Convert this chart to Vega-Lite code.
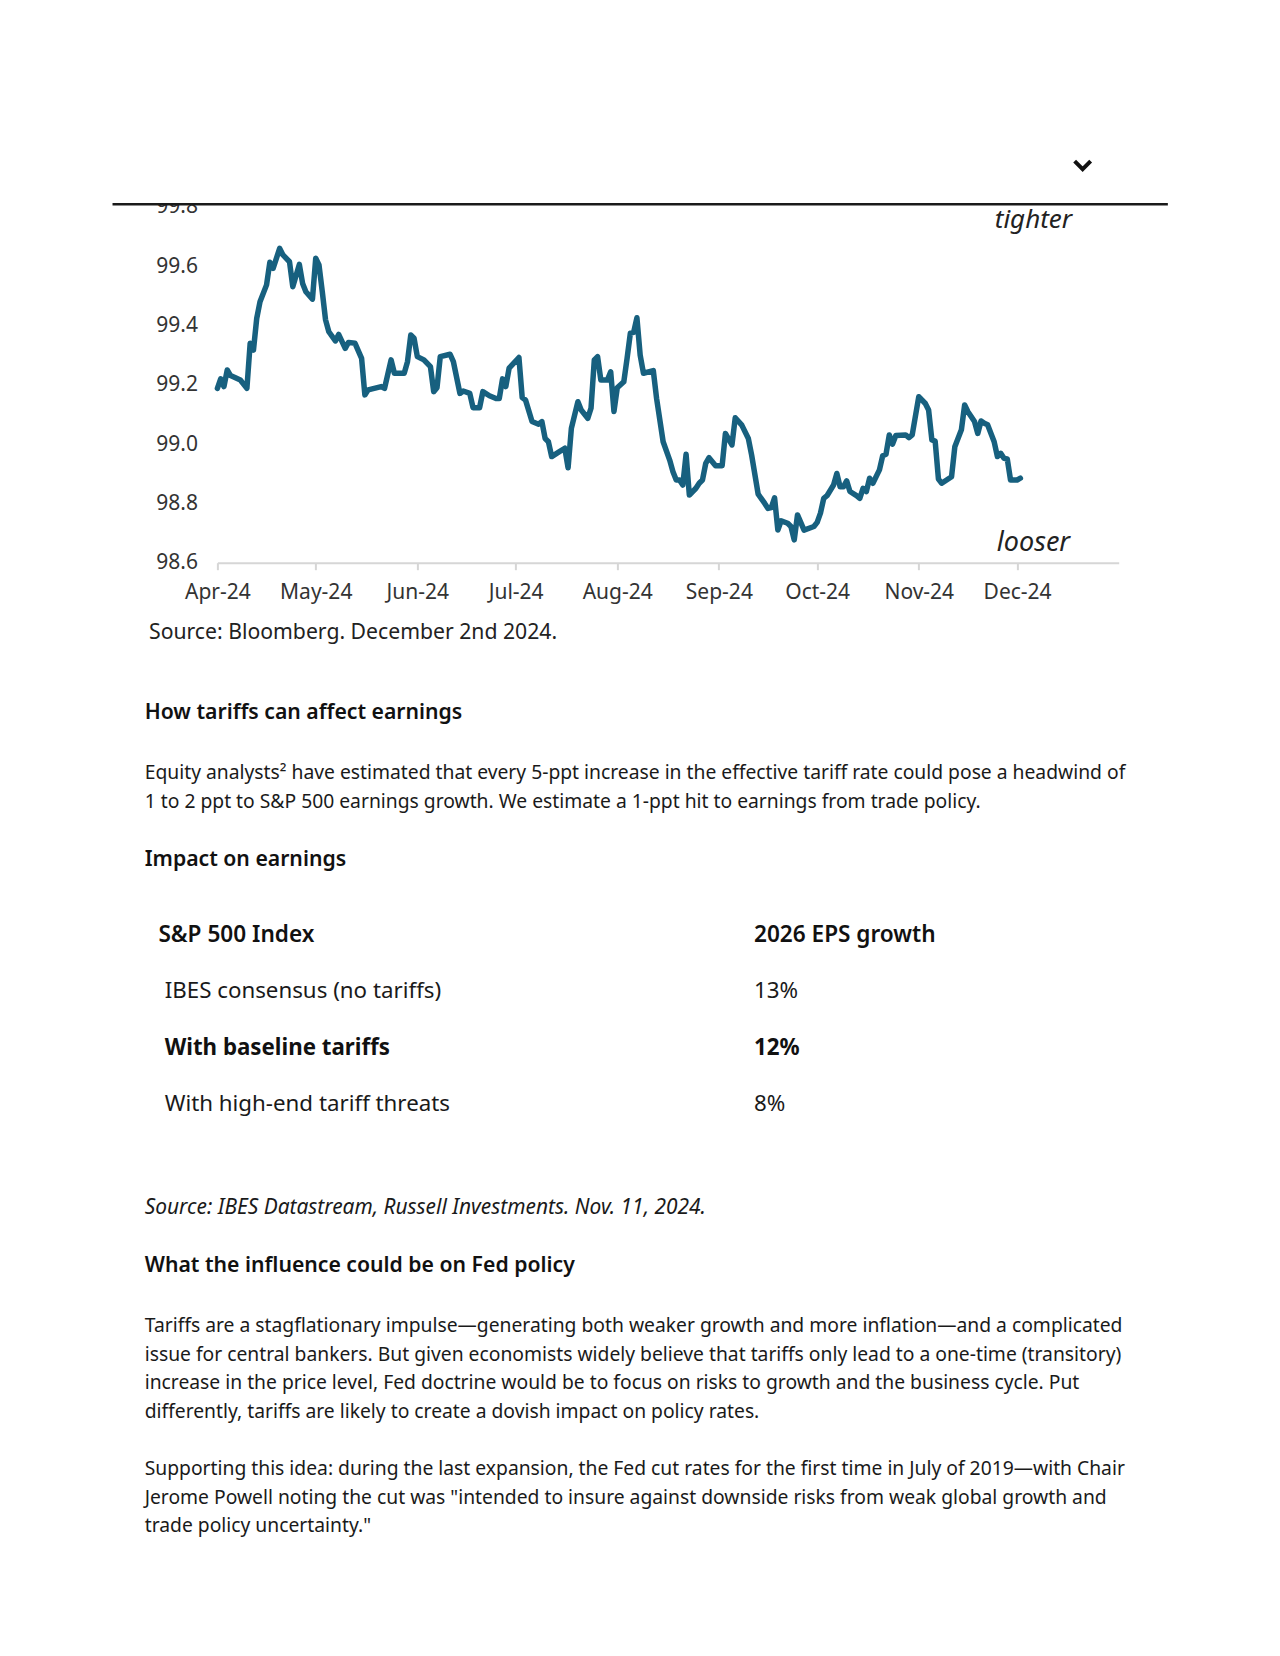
{
  "$schema": "https://vega.github.io/schema/vega-lite/v6.json",
  "width": 901.3,
  "height": 355.8,
  "autosize": {"type": "none"},
  "padding": {"left": 217.4, "top": 206.9, "right": 161.3, "bottom": 1093.3},
  "background": "white",
  "config": {"view": {"stroke": null}, "font": "Noto Sans"},
  "datasets": {
    "fci": [
      {"date": "2024-04-01", "value": 99.188}, {"date": "2024-04-02", "value": 99.22}, {"date": "2024-04-03", "value": 99.194},
      {"date": "2024-04-04", "value": 99.25}, {"date": "2024-04-05", "value": 99.231}, {"date": "2024-04-08", "value": 99.216},
      {"date": "2024-04-10", "value": 99.188}, {"date": "2024-04-11", "value": 99.34}, {"date": "2024-04-12", "value": 99.317},
      {"date": "2024-04-13", "value": 99.424}, {"date": "2024-04-14", "value": 99.48}, {"date": "2024-04-16", "value": 99.537},
      {"date": "2024-04-17", "value": 99.613}, {"date": "2024-04-18", "value": 99.593}, {"date": "2024-04-20", "value": 99.66},
      {"date": "2024-04-21", "value": 99.638}, {"date": "2024-04-23", "value": 99.615}, {"date": "2024-04-24", "value": 99.531},
      {"date": "2024-04-26", "value": 99.606}, {"date": "2024-04-27", "value": 99.542}, {"date": "2024-04-28", "value": 99.514},
      {"date": "2024-04-30", "value": 99.489}, {"date": "2024-05-01", "value": 99.627}, {"date": "2024-05-02", "value": 99.604},
      {"date": "2024-05-03", "value": 99.514}, {"date": "2024-05-04", "value": 99.419}, {"date": "2024-05-05", "value": 99.379},
      {"date": "2024-05-07", "value": 99.348}, {"date": "2024-05-08", "value": 99.37}, {"date": "2024-05-10", "value": 99.323},
      {"date": "2024-05-11", "value": 99.343}, {"date": "2024-05-13", "value": 99.34}, {"date": "2024-05-15", "value": 99.289},
      {"date": "2024-05-16", "value": 99.166}, {"date": "2024-05-17", "value": 99.183}, {"date": "2024-05-21", "value": 99.194},
      {"date": "2024-05-22", "value": 99.188}, {"date": "2024-05-24", "value": 99.284}, {"date": "2024-05-25", "value": 99.239},
      {"date": "2024-05-28", "value": 99.239}, {"date": "2024-05-29", "value": 99.278}, {"date": "2024-05-30", "value": 99.368},
      {"date": "2024-05-31", "value": 99.357}, {"date": "2024-06-01", "value": 99.295}, {"date": "2024-06-03", "value": 99.284},
      {"date": "2024-06-05", "value": 99.261}, {"date": "2024-06-06", "value": 99.177}, {"date": "2024-06-07", "value": 99.19},
      {"date": "2024-06-08", "value": 99.295}, {"date": "2024-06-11", "value": 99.303}, {"date": "2024-06-12", "value": 99.278},
      {"date": "2024-06-14", "value": 99.171}, {"date": "2024-06-15", "value": 99.179}, {"date": "2024-06-17", "value": 99.171},
      {"date": "2024-06-18", "value": 99.123}, {"date": "2024-06-20", "value": 99.123}, {"date": "2024-06-21", "value": 99.177},
      {"date": "2024-06-23", "value": 99.163}, {"date": "2024-06-25", "value": 99.154}, {"date": "2024-06-26", "value": 99.154},
      {"date": "2024-06-27", "value": 99.22}, {"date": "2024-06-28", "value": 99.194}, {"date": "2024-06-29", "value": 99.256},
      {"date": "2024-07-02", "value": 99.292}, {"date": "2024-07-03", "value": 99.157}, {"date": "2024-07-04", "value": 99.149},
      {"date": "2024-07-06", "value": 99.076}, {"date": "2024-07-08", "value": 99.067}, {"date": "2024-07-09", "value": 99.076},
      {"date": "2024-07-10", "value": 99.019}, {"date": "2024-07-11", "value": 99.008}, {"date": "2024-07-12", "value": 98.958},
      {"date": "2024-07-14", "value": 98.972}, {"date": "2024-07-16", "value": 98.986}, {"date": "2024-07-17", "value": 98.92},
      {"date": "2024-07-18", "value": 99.053}, {"date": "2024-07-20", "value": 99.143}, {"date": "2024-07-21", "value": 99.115},
      {"date": "2024-07-23", "value": 99.087}, {"date": "2024-07-24", "value": 99.121}, {"date": "2024-07-25", "value": 99.284},
      {"date": "2024-07-26", "value": 99.295}, {"date": "2024-07-27", "value": 99.216}, {"date": "2024-07-29", "value": 99.216},
      {"date": "2024-07-30", "value": 99.244}, {"date": "2024-07-31", "value": 99.11}, {"date": "2024-08-01", "value": 99.19},
      {"date": "2024-08-03", "value": 99.21}, {"date": "2024-08-04", "value": 99.289}, {"date": "2024-08-05", "value": 99.374},
      {"date": "2024-08-06", "value": 99.377}, {"date": "2024-08-07", "value": 99.426}, {"date": "2024-08-08", "value": 99.3},
      {"date": "2024-08-09", "value": 99.239}, {"date": "2024-08-12", "value": 99.248}, {"date": "2024-08-13", "value": 99.154},
      {"date": "2024-08-15", "value": 99.008}, {"date": "2024-08-17", "value": 98.946}, {"date": "2024-08-18", "value": 98.907},
      {"date": "2024-08-19", "value": 98.879}, {"date": "2024-08-20", "value": 98.879}, {"date": "2024-08-21", "value": 98.862},
      {"date": "2024-08-22", "value": 98.966}, {"date": "2024-08-23", "value": 98.828}, {"date": "2024-08-25", "value": 98.851},
      {"date": "2024-08-26", "value": 98.868}, {"date": "2024-08-27", "value": 98.879}, {"date": "2024-08-28", "value": 98.935},
      {"date": "2024-08-29", "value": 98.954}, {"date": "2024-08-31", "value": 98.927}, {"date": "2024-09-02", "value": 98.927},
      {"date": "2024-09-03", "value": 99.036}, {"date": "2024-09-05", "value": 98.997}, {"date": "2024-09-06", "value": 99.089},
      {"date": "2024-09-08", "value": 99.064}, {"date": "2024-09-10", "value": 99.019}, {"date": "2024-09-11", "value": 98.963},
      {"date": "2024-09-13", "value": 98.831}, {"date": "2024-09-15", "value": 98.8}, {"date": "2024-09-16", "value": 98.783},
      {"date": "2024-09-17", "value": 98.786}, {"date": "2024-09-18", "value": 98.819}, {"date": "2024-09-19", "value": 98.71},
      {"date": "2024-09-20", "value": 98.741}, {"date": "2024-09-22", "value": 98.733}, {"date": "2024-09-23", "value": 98.722},
      {"date": "2024-09-24", "value": 98.677}, {"date": "2024-09-25", "value": 98.761}, {"date": "2024-09-27", "value": 98.71},
      {"date": "2024-09-30", "value": 98.722}, {"date": "2024-10-01", "value": 98.736}, {"date": "2024-10-02", "value": 98.767},
      {"date": "2024-10-03", "value": 98.817}, {"date": "2024-10-04", "value": 98.826}, {"date": "2024-10-06", "value": 98.862},
      {"date": "2024-10-07", "value": 98.901}, {"date": "2024-10-08", "value": 98.856}, {"date": "2024-10-09", "value": 98.856},
      {"date": "2024-10-10", "value": 98.876}, {"date": "2024-10-11", "value": 98.84}, {"date": "2024-10-13", "value": 98.826},
      {"date": "2024-10-14", "value": 98.817}, {"date": "2024-10-15", "value": 98.851}, {"date": "2024-10-16", "value": 98.84},
      {"date": "2024-10-17", "value": 98.885}, {"date": "2024-10-18", "value": 98.868}, {"date": "2024-10-20", "value": 98.913},
      {"date": "2024-10-21", "value": 98.961}, {"date": "2024-10-22", "value": 98.966}, {"date": "2024-10-23", "value": 99.031},
      {"date": "2024-10-24", "value": 99.0}, {"date": "2024-10-25", "value": 99.029}, {"date": "2024-10-28", "value": 99.031},
      {"date": "2024-10-29", "value": 99.022}, {"date": "2024-10-30", "value": 99.031}, {"date": "2024-11-01", "value": 99.16},
      {"date": "2024-11-03", "value": 99.137}, {"date": "2024-11-04", "value": 99.115}, {"date": "2024-11-05", "value": 99.014},
      {"date": "2024-11-06", "value": 99.01}, {"date": "2024-11-07", "value": 98.882}, {"date": "2024-11-08", "value": 98.868},
      {"date": "2024-11-11", "value": 98.89}, {"date": "2024-11-12", "value": 98.991}, {"date": "2024-11-14", "value": 99.048},
      {"date": "2024-11-15", "value": 99.132}, {"date": "2024-11-16", "value": 99.109}, {"date": "2024-11-18", "value": 99.076},
      {"date": "2024-11-19", "value": 99.036}, {"date": "2024-11-20", "value": 99.078}, {"date": "2024-11-21", "value": 99.07},
      {"date": "2024-11-22", "value": 99.065}, {"date": "2024-11-24", "value": 99.008}, {"date": "2024-11-25", "value": 98.958},
      {"date": "2024-11-26", "value": 98.969}, {"date": "2024-11-27", "value": 98.952}, {"date": "2024-11-28", "value": 98.95},
      {"date": "2024-11-29", "value": 98.879}, {"date": "2024-12-01", "value": 98.879}, {"date": "2024-12-02", "value": 98.885}
    ],
    "page": [
      {"kind": "chart-source", "line": 1, "col": 1, "text": "Source: Bloomberg. December 2nd 2024."},
      {"kind": "heading", "line": 2, "col": 0, "text": "How tariffs can affect earnings"},
      {"kind": "body", "line": 3, "col": 0, "text": "Equity analysts² have estimated that every 5-ppt increase in the effective tariff rate could pose a headwind of"},
      {"kind": "body", "line": 4, "col": 0, "text": "1 to 2 ppt to S&P 500 earnings growth. We estimate a 1-ppt hit to earnings from trade policy."},
      {"kind": "heading", "line": 5, "col": 0, "text": "Impact on earnings"},
      {"kind": "table-head", "line": 6, "col": 2, "text": "S&P 500 Index"},
      {"kind": "table-head", "line": 6, "col": 4, "text": "2026 EPS growth"},
      {"kind": "table-cell", "line": 7, "col": 3, "text": "IBES consensus (no tariffs)"},
      {"kind": "table-cell", "line": 7, "col": 4, "text": "13%"},
      {"kind": "table-cell-key", "line": 8, "col": 3, "text": "With baseline tariffs"},
      {"kind": "table-cell-key", "line": 8, "col": 4, "text": "12%"},
      {"kind": "table-cell", "line": 9, "col": 3, "text": "With high-end tariff threats"},
      {"kind": "table-cell", "line": 9, "col": 4, "text": "8%"},
      {"kind": "note", "line": 10, "col": 0, "text": "Source: IBES Datastream, Russell Investments. Nov. 11, 2024."},
      {"kind": "heading", "line": 11, "col": 0, "text": "What the influence could be on Fed policy"},
      {"kind": "body", "line": 12, "col": 0, "text": "Tariffs are a stagflationary impulse—generating both weaker growth and more inflation—and a complicated"},
      {"kind": "body", "line": 13, "col": 0, "text": "issue for central bankers. But given economists widely believe that tariffs only lead to a one-time (transitory)"},
      {"kind": "body", "line": 14, "col": 0, "text": "increase in the price level, Fed doctrine would be to focus on risks to growth and the business cycle. Put"},
      {"kind": "body", "line": 15, "col": 0, "text": "differently, tariffs are likely to create a dovish impact on policy rates."},
      {"kind": "body", "line": 16, "col": 0, "text": "Supporting this idea: during the last expansion, the Fed cut rates for the first time in July of 2019—with Chair"},
      {"kind": "body", "line": 17, "col": 0, "text": "Jerome Powell noting the cut was \"intended to insure against downside risks from weak global growth and"},
      {"kind": "body", "line": 18, "col": 0, "text": "trade policy uncertainty.\""}
    ]
  },
  "layer": [
    {
      "data": {"name": "fci"},
      "layer": [
        {
          "mark": {"type": "line", "color": "#17607f", "strokeWidth": 5.5, "strokeJoin": "round", "strokeCap": "round"},
          "encoding": {
            "x": {
              "field": "date", "type": "temporal",
              "scale": {"domain": [{"year": 2024, "month": 4, "date": 1}, {"year": 2025, "month": 1, "date": 1}], "nice": false},
              "axis": {"title": null, "format": "%b-%y", "tickCount": {"interval": "month", "step": 1}, "grid": false,
                       "values": [{"year": 2024, "month": 4, "date": 1}, {"year": 2024, "month": 5, "date": 1}, {"year": 2024, "month": 6, "date": 1},
                                  {"year": 2024, "month": 7, "date": 1}, {"year": 2024, "month": 8, "date": 1}, {"year": 2024, "month": 9, "date": 1},
                                  {"year": 2024, "month": 10, "date": 1}, {"year": 2024, "month": 11, "date": 1}, {"year": 2024, "month": 12, "date": 1}],
                       "labelFontSize": 21, "labelFont": "Noto Sans", "labelColor": "#333333", "labelFlush": false, "labelOverlap": false,
                       "domainColor": "#d6d6d6", "domainWidth": 2, "tickColor": "#d6d6d6", "tickWidth": 2, "tickSize": 7, "labelPadding": 12}
            },
            "y": {
              "field": "value", "type": "quantitative",
              "scale": {"domain": [98.6, 99.8], "zero": false, "nice": false},
              "axis": {"title": null, "values": [98.6, 98.8, 99.0, 99.2, 99.4, 99.6, 99.8], "format": ".1f", "domain": false, "ticks": false, "grid": false,
                       "labelFontSize": 21, "labelFont": "Noto Sans", "labelColor": "#333333", "labelPadding": 20}
            }
          }
        },
        {
          "data": {"values": [{"part": "label mask"}]},
          "mark": {"type": "rect", "color": "white"},
          "encoding": {
            "x": {"datum": {"year": 2024, "month": 2, "date": 20}, "type": "temporal"},
            "x2": {"datum": {"year": 2024, "month": 4, "date": 1}},
            "y": {"datum": 99.8125, "type": "quantitative"},
            "y2": {"datum": 99.9}
          }
        },
        {
          "data": {"values": [{"part": "header rule"}]},
          "mark": {"type": "rule", "color": "#1a1a1a", "strokeWidth": 2.5},
          "encoding": {
            "x": {"datum": {"year": 2024, "month": 2, "date": 29}, "type": "temporal"},
            "x2": {"datum": {"year": 2025, "month": 1, "date": 16}},
            "y": {"datum": 99.8088, "type": "quantitative"}
          }
        },
        {
          "data": {"values": [{"part": "collapse chevron"}]},
          "mark": {"type": "point", "shape": "M-1,-0.5L0,0.5L1,-0.5", "filled": false, "stroke": "#111111", "strokeWidth": 4, "size": 256, "opacity": 1},
          "encoding": {
            "x": {"datum": {"year": 2024, "month": 12, "date": 21}, "type": "temporal"},
            "y": {"datum": 99.941, "type": "quantitative"}
          }
        },
        {
          "data": {"values": [{"label": "tighter"}]},
          "mark": {"type": "text", "fontStyle": "italic", "fontSize": 26, "color": "#222222", "align": "center", "baseline": "middle"},
          "encoding": {
            "x": {"datum": {"year": 2024, "month": 12, "date": 6}, "type": "temporal"},
            "y": {"datum": 99.755, "type": "quantitative"},
            "text": {"field": "label"}
          }
        },
        {
          "data": {"values": [{"label": "looser"}]},
          "mark": {"type": "text", "fontStyle": "italic", "fontSize": 27, "color": "#222222", "align": "center", "baseline": "middle"},
          "encoding": {
            "x": {"datum": {"year": 2024, "month": 12, "date": 6}, "type": "temporal"},
            "y": {"datum": 98.668, "type": "quantitative"},
            "text": {"field": "label"}
          }
        }
      ]
    },
    {
      "data": {"name": "page"},
      "encoding": {
        "x": {"field": "col", "type": "quantitative", "axis": null,
              "scale": {"domain": [0, 1, 2, 3, 4], "range": [-72.7, -68.4, -59, -52.7, 536.6], "zero": false, "nice": false}},
        "y": {"field": "line", "type": "quantitative", "axis": null,
              "scale": {"domain": [1, 2, 3, 4, 5, 6, 7, 8, 9, 10, 11, 12, 13, 14, 15, 16, 17, 18],
                        "range": [425.6, 506.1, 566.1, 594.6, 652.8, 727.7, 783.7, 840.8, 896.7, 1001.2, 1059.4, 1119.5, 1148.0, 1176.5, 1205.0, 1262.1, 1290.6, 1319.1],
                        "zero": false, "nice": false}},
        "text": {"field": "text"}
      },
      "layer": [
        {"transform": [{"filter": "datum.kind === 'chart-source'"}],
         "mark": {"type": "text", "align": "left", "baseline": "middle", "fontSize": 21.2, "color": "#222222"}},
        {"transform": [{"filter": "datum.kind === 'heading'"}],
         "mark": {"type": "text", "align": "left", "baseline": "middle", "fontSize": 21.2, "fontWeight": 600, "color": "#111111"}},
        {"transform": [{"filter": "datum.kind === 'body'"}],
         "mark": {"type": "text", "align": "left", "baseline": "middle", "fontSize": 19.3, "color": "#1a1a1a"}},
        {"transform": [{"filter": "datum.kind === 'table-head'"}],
         "mark": {"type": "text", "align": "left", "baseline": "middle", "fontSize": 22.6, "fontWeight": 600, "color": "#111111"}},
        {"transform": [{"filter": "datum.kind === 'table-cell'"}],
         "mark": {"type": "text", "align": "left", "baseline": "middle", "fontSize": 22.3, "color": "#1a1a1a"}},
        {"transform": [{"filter": "datum.kind === 'table-cell-key'"}],
         "mark": {"type": "text", "align": "left", "baseline": "middle", "fontSize": 22.3, "fontWeight": 700, "color": "#111111"}},
        {"transform": [{"filter": "datum.kind === 'note'"}],
         "mark": {"type": "text", "align": "left", "baseline": "middle", "fontSize": 20.9, "fontStyle": "italic", "color": "#1a1a1a"}}
      ]
    }
  ],
  "resolve": {"scale": {"x": "independent", "y": "independent"}}
}
